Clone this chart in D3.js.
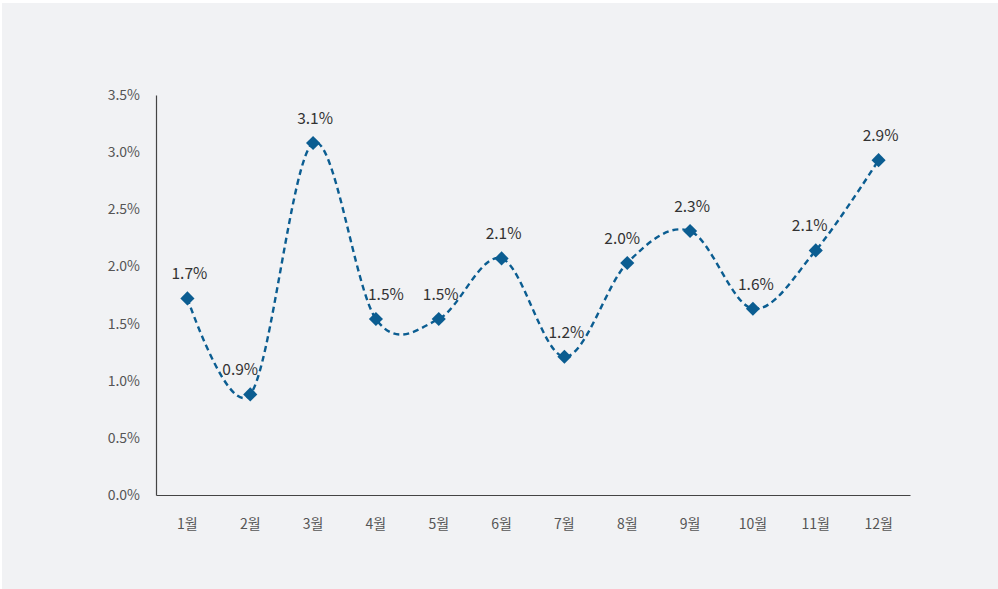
<!DOCTYPE html>
<html><head><meta charset="utf-8">
<script src="https://cdn.jsdelivr.net/npm/d3@7"></script>
<style>html,body{margin:0;padding:0;background:#fff;}svg{display:block;}svg text{font-family:"Noto Sans CJK KR","Noto Sans",sans-serif !important;}</style>
</head><body><svg id="c" width="998" height="589"></svg>
<script>
const months = ["1월","2월","3월","4월","5월","6월","7월","8월","9월","10월","11월","12월"];
const values = [1.72,0.88,3.08,1.54,1.54,2.07,1.21,2.03,2.31,1.63,2.14,2.93];
const labels = ["1.7%","0.9%","3.1%","1.5%","1.5%","2.1%","1.2%","2.0%","2.3%","1.6%","2.1%","2.9%"];
const yTicks = [0,0.5,1,1.5,2,2.5,3,3.5];

(function(){
const svg = d3.select("#c");
svg.append("rect").attr("x",2).attr("y",3).attr("width",996).attr("height",586).attr("fill","#f1f2f4");

const mLeft=156,mRight=910,mTop=95,mBottom=495;
const x = d3.scaleBand().domain(months).range([mLeft,mRight]);
const y = d3.scaleLinear().domain([0,3.5]).range([mBottom,mTop]);

const ya = svg.append("g").attr("transform",`translate(${mLeft},0)`)
  .call(d3.axisLeft(y).tickValues(yTicks).tickSize(0).tickPadding(16).tickFormat(d=>d.toFixed(1)+"%"));
ya.select(".domain").attr("stroke","#444").attr("stroke-width",1.2);
ya.selectAll("text").attr("fill","#555").attr("font-size",14);

const xa = svg.append("g").attr("transform",`translate(0,${mBottom})`)
  .call(d3.axisBottom(x).tickSize(0).tickPadding(24));
xa.select(".domain").attr("stroke","#444").attr("stroke-width",1.2);
xa.selectAll("text").attr("fill","#555").attr("font-size",14);

const cx = d=>x(d)+x.bandwidth()/2;
const line = d3.line().x((d,i)=>cx(months[i])).y(d=>y(d)).curve(d3.curveCardinal.tension(0));
svg.append("path").datum(values).attr("d",line).attr("fill","none")
  .attr("stroke","#0b5d91").attr("stroke-width",2.4).attr("stroke-dasharray","6,4");

svg.selectAll(".m").data(values).join("path")
  .attr("d",d3.symbol(d3.symbolSquare,100)())
  .attr("transform",(d,i)=>`translate(${cx(months[i])},${y(d)}) rotate(45)`)
  .attr("fill","#0b5d91");

// small label nudges to avoid the line
const nudge = [2,-10,2,10,2,2,2,-5,2,3,-6,2];
svg.selectAll(".l").data(values).join("text")
  .attr("x",(d,i)=>cx(months[i])+nudge[i]).attr("y",d=>y(d)-19)
  .attr("text-anchor","middle").attr("font-size",15.5).attr("fill","#333")
  .text((d,i)=>labels[i]);
})();
</script></body></html>
